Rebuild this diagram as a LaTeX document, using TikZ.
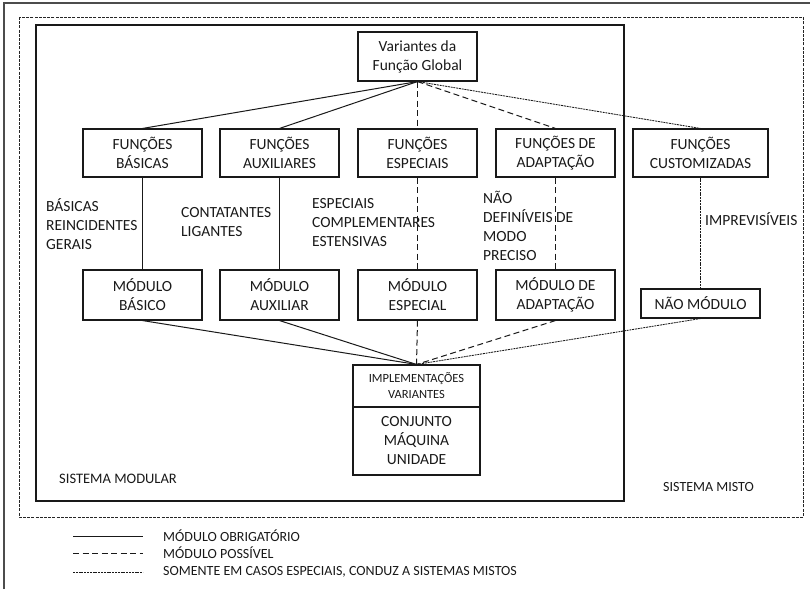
\documentclass[tikz,border=0pt]{standalone}
\usepackage{fontspec}
\setmainfont{Carlito}
\begin{document}
\begin{tikzpicture}[x=1pt,y=-1pt,
  ink/.style={draw=black!90},
  box/.style={ink, line width=1.1pt, rectangle, inner sep=0pt, align=center,
    minimum width=119pt, minimum height=48pt, font=\fontsize{15.5}{19}\selectfont, text=black!90},
  lbl/.style={anchor=west, inner sep=0pt, align=left, font=\fontsize{15.5}{19}\selectfont, text=black!90},
  must/.style={ink, line width=1pt},
  maybe/.style={ink, line width=1pt, dash pattern=on 6pt off 3.5pt},
  rare/.style={ink, line width=0.85pt, dash pattern=on 2pt off 0.8pt},
  frame/.style={draw=black!70, line width=1.4pt},
  mixedframe/.style={draw=black!85, line width=0.9pt, dash pattern=on 3pt off 1.2pt},
  legtext/.style={anchor=west, inner sep=0pt, font=\fontsize{14}{17}\selectfont, text=black!90}
]
\useasboundingbox (0,0) rectangle (810,589);

% open outer frame (top and left edges)
\draw[frame] (4,589) -- (4,3) -- (810,3);
% mixed system boundary and modular system boundary
\draw[mixedframe] (19,17) rectangle (803,517);
\draw[ink, line width=1.2pt] (36,25) rectangle (624,501);

% global function
\node[box, minimum height=49pt] (glob) at (417.5,56.5) {Variantes da\\Função Global};

% function types
\node[box] (fb) at (142.5,153) {FUNÇÕES\\BÁSICAS};
\node[box] (fa) at (279.5,153) {FUNÇÕES\\AUXILIARES};
\node[box] (fe) at (417.5,153) {FUNÇÕES\\ESPECIAIS};
\node[box] (fd) at (555.5,153) {FUNÇÕES DE\\ADAPTAÇÃO};
\node[box, minimum width=135pt] (fc) at (700.5,153) {FUNÇÕES\\CUSTOMIZADAS};

% module types
\node[box, minimum height=50pt] (mb) at (142.5,295) {MÓDULO\\BÁSICO};
\node[box, minimum height=50pt] (ma) at (279.5,295) {MÓDULO\\AUXILIAR};
\node[box, minimum height=50pt] (me) at (417.5,295) {MÓDULO\\ESPECIAL};
\node[box, minimum height=50pt] (md) at (555.5,295) {MÓDULO DE\\ADAPTAÇÃO};
\node[box, minimum height=29pt] (nm) at (700.5,303.5) {NÃO MÓDULO};

% implementation
\node[box, minimum width=127pt, minimum height=42pt, font=\fontsize{12.5}{16}\selectfont] (impl) at (416.5,386) {IMPLEMENTAÇÕES\\VARIANTES};
\node[box, minimum width=127pt, minimum height=68pt] (conj) at (416.5,441) {CONJUNTO\\MÁQUINA\\UNIDADE};

% connectors from the global function
\draw[must]  (glob.south) -- (fb.north);
\draw[must]  (glob.south) -- (fa.north);
\draw[maybe] (glob.south) -- (fe.north);
\draw[maybe] (glob.south) -- (fd.north);
\draw[rare]  (glob.south) -- (fc.north);

% functions to modules
\draw[must]  (fb.south) -- (mb.north);
\draw[must]  (fa.south) -- (ma.north);
\draw[maybe] (fe.south) -- (me.north);
\draw[maybe] (fd.south) -- (md.north);
\draw[rare]  (fc.south) -- (nm.north);

% modules to implementation
\draw[must]  (mb.south) -- (impl.north);
\draw[must]  (ma.south) -- (impl.north);
\draw[maybe] (me.south) -- (impl.north);
\draw[maybe] (md.south) -- (impl.north);
\draw[rare]  (nm.south) -- (impl.north);

% descriptive labels
\node[lbl] (lb) at (46,224) {BÁSICAS\\REINCIDENTES\\GERAIS};
\node[lbl] (la) at (181,222.5) {CONTATANTES\\LIGANTES};
\node[lbl] (le) at (312,223) {ESPECIAIS\\COMPLEMENTARES\\ESTENSIVAS};
\node[lbl] (ld) at (483,225.5) {NÃO\\DEFINÍVEIS DE\\MODO\\PRECISO};
\node[lbl] (lc) at (705,219) {IMPREVISÍVEIS};

\node[legtext, font=\fontsize{14.5}{17}\selectfont] (smod) at (59,479) {SISTEMA MODULAR};
\node[legtext] (smix) at (663,487) {SISTEMA MISTO};

% legend
\coordinate (l1a) at (73,536);  \coordinate (l1b) at (143,536);
\coordinate (l2a) at (73,553);  \coordinate (l2b) at (143,553);
\coordinate (l3a) at (73,572);  \coordinate (l3b) at (143,572);
\draw[must]  (l1a) -- (l1b);
\draw[maybe] (l2a) -- (l2b);
\draw[rare]  (l3a) -- (l3b);
\node[legtext] (t1) at (163,536) {MÓDULO OBRIGATÓRIO};
\node[legtext] (t2) at (163,553) {MÓDULO POSSÍVEL};
\node[legtext] (t3) at (163,572) {SOMENTE EM CASOS ESPECIAIS, CONDUZ A SISTEMAS MISTOS};
\end{tikzpicture}
\end{document}
